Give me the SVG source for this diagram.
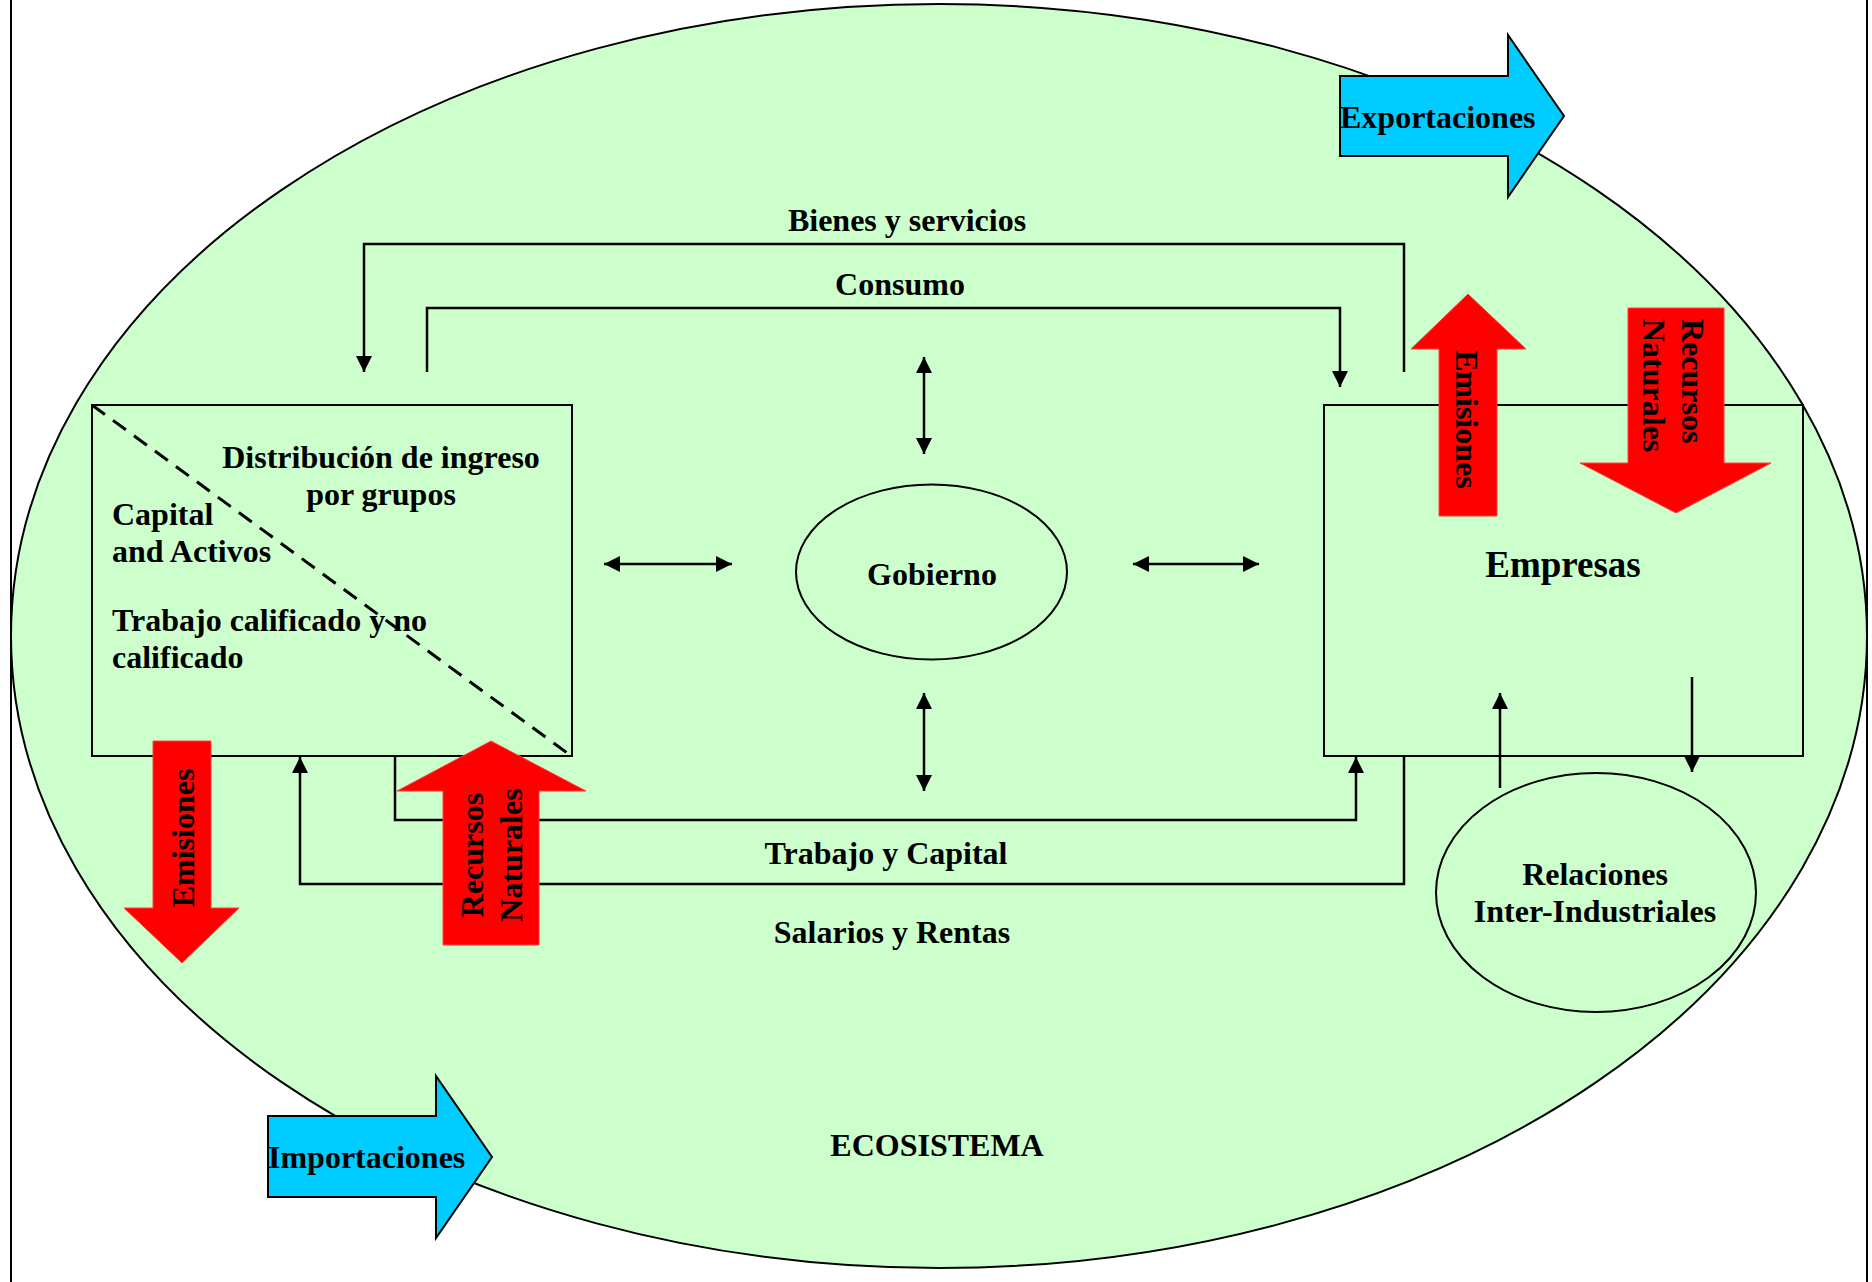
<svg xmlns="http://www.w3.org/2000/svg" width="1872" height="1282" viewBox="0 0 1872 1282">
<style>
  text { font-family: "Liberation Serif", "Times New Roman", serif; font-weight: bold; font-size: 32px; fill: #000; }
  .mid { text-anchor: middle; }
  .big { font-size: 37px; }
  .box { fill: none; stroke: #000; stroke-width: 2; }
  .conn { fill: none; stroke: #000; stroke-width: 2.5; }
  .red { fill: #FF0000; stroke: #FF4040; stroke-width: 1; }
  .cyan { fill: #00CCFF; stroke: #000; stroke-width: 2; }
  .node-ell { fill: #CCFFCC; stroke: #000; stroke-width: 2; }
</style>
<defs>
  <marker id="ah" viewBox="0 0 16 16" markerWidth="16" markerHeight="16" refX="16" refY="8" orient="auto-start-reverse" markerUnits="userSpaceOnUse">
    <path d="M0,0 L16,8 L0,16 z" fill="#000"/>
  </marker>
</defs>
<rect x="0" y="0" width="1872" height="1282" fill="#fff"/>
<line x1="11" y1="0" x2="11" y2="1282" stroke="#000" stroke-width="2"/>
<line x1="1867" y1="0" x2="1867" y2="1282" stroke="#000" stroke-width="2"/>

<g id="ecosistema">
  <ellipse cx="939" cy="636" rx="928" ry="632" fill="#CCFFCC" stroke="#000" stroke-width="2"/>
  <text class="mid" x="937" y="1156">ECOSISTEMA</text>
</g>

<g id="hogares">
  <rect class="box" x="92" y="405" width="480" height="351"/>
  <line x1="92" y1="405" x2="570" y2="755" stroke="#000" stroke-width="3" stroke-dasharray="16 10"/>
  <text class="mid" x="381" y="468">Distribución de ingreso</text>
  <text class="mid" x="381" y="505">por grupos</text>
  <text x="112" y="525">Capital</text>
  <text x="112" y="562">and Activos</text>
  <text x="112" y="631">Trabajo calificado y no</text>
  <text x="112" y="668">calificado</text>
</g>

<g id="empresas">
  <rect class="box" x="1324" y="405" width="479" height="351"/>
  <text class="mid big" x="1563" y="577">Empresas</text>
</g>

<g id="gobierno">
  <ellipse class="node-ell" cx="931.5" cy="572" rx="135.5" ry="87.5"/>
  <text class="mid" x="932" y="585">Gobierno</text>
</g>

<g id="relaciones">
  <ellipse class="node-ell" cx="1596" cy="892.5" rx="160" ry="119.5"/>
  <text class="mid" x="1595" y="885">Relaciones</text>
  <text class="mid" x="1595" y="922">Inter-Industriales</text>
</g>

<g id="connectors">
  <path class="conn" d="M1404,372 V244 H364 V372" marker-end="url(#ah)"/>
  <text class="mid" x="907" y="231">Bienes y servicios</text>
  <path class="conn" d="M427,372 V308 H1340 V387" marker-end="url(#ah)"/>
  <text class="mid" x="900" y="295">Consumo</text>
  <path class="conn" d="M395,757 V820 H1356 V757" marker-end="url(#ah)"/>
  <text class="mid" x="886" y="864">Trabajo y Capital</text>
  <path class="conn" d="M1404,757 V884 H300 V757" marker-end="url(#ah)"/>
  <text class="mid" x="892" y="943">Salarios y Rentas</text>
  <path class="conn" d="M604,564 H732" marker-start="url(#ah)" marker-end="url(#ah)"/>
  <path class="conn" d="M1133,564 H1259" marker-start="url(#ah)" marker-end="url(#ah)"/>
  <path class="conn" d="M924,357 V454" marker-start="url(#ah)" marker-end="url(#ah)"/>
  <path class="conn" d="M924,693 V791" marker-start="url(#ah)" marker-end="url(#ah)"/>
  <path class="conn" d="M1500,788 V693" marker-end="url(#ah)"/>
  <path class="conn" d="M1692,677 V772" marker-end="url(#ah)"/>
</g>

<g id="exportaciones">
  <polygon class="cyan" points="1340,76 1508,76 1508,35 1564,116 1508,197 1508,156 1340,156"/>
  <text x="1340" y="128">Exportaciones</text>
</g>

<g id="importaciones">
  <polygon class="cyan" points="268,1116 436,1116 436,1076 492,1157 436,1238 436,1197 268,1197"/>
  <text x="268" y="1168">Importaciones</text>
</g>

<g id="emisiones-hogares">
  <polygon class="red" points="153,741 211,741 211,908 239,908 182,963 124,908 153,908"/>
  <text class="mid" transform="translate(194,838) rotate(-90)">Emisiones</text>
</g>

<g id="recursos-hogares">
  <polygon class="red" points="443,945 539,945 539,791 586,791 491,741 397,791 443,791"/>
  <text class="mid" transform="translate(483,855) rotate(-90)">Recursos</text>
  <text class="mid" transform="translate(522,855) rotate(-90)">Naturales</text>
</g>

<g id="emisiones-empresas">
  <polygon class="red" points="1439,516 1497,516 1497,349 1526,349 1468,294 1411,349 1439,349"/>
  <text transform="translate(1456,350) rotate(90)">Emisiones</text>
</g>

<g id="recursos-empresas">
  <polygon class="red" points="1628,308 1724,308 1724,463 1771,463 1676,513 1580,463 1628,463"/>
  <text transform="translate(1682,319) rotate(90)">Recursos</text>
  <text transform="translate(1643,319) rotate(90)">Naturales</text>
</g>
</svg>
